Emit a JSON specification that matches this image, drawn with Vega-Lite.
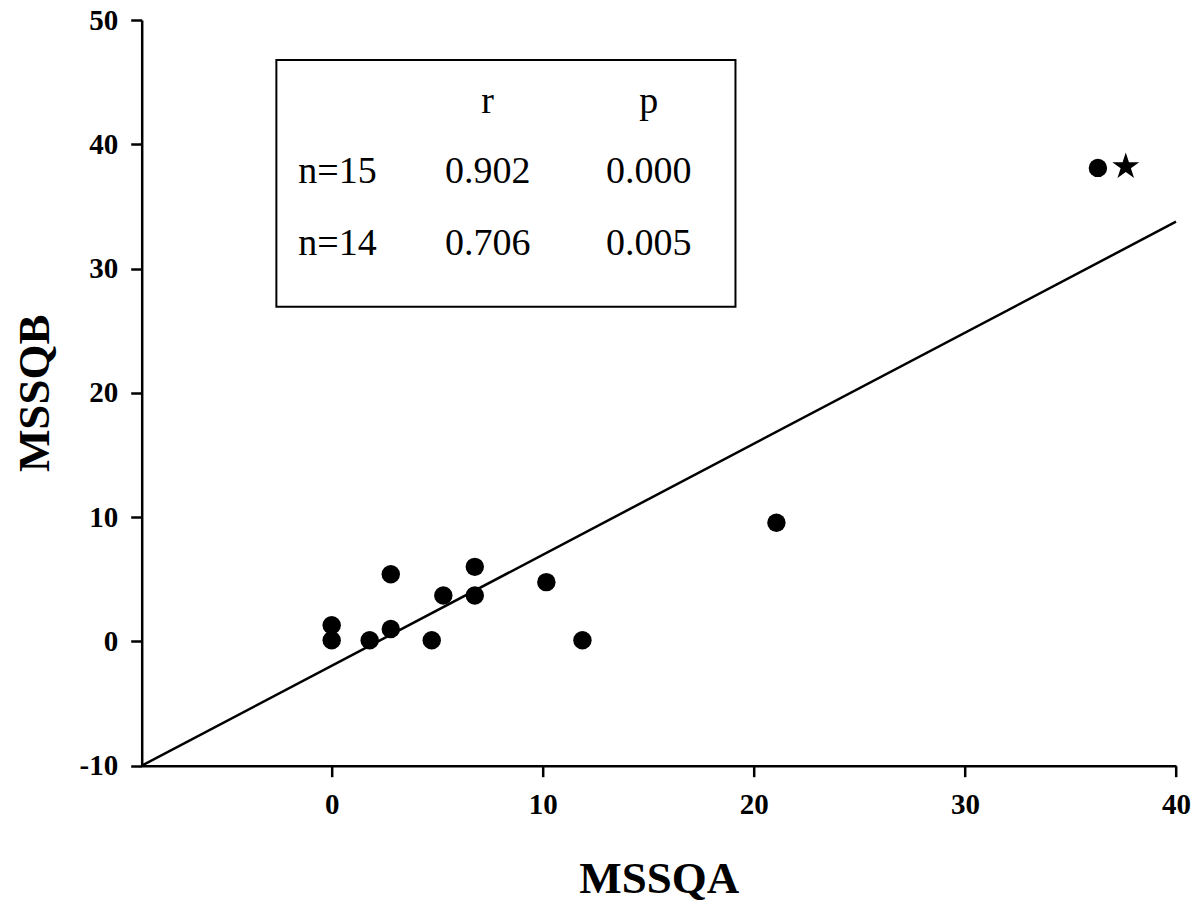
{
  "$schema": "https://vega.github.io/schema/vega-lite/v6.json",
  "width": 1034.3,
  "height": 745.7,
  "autosize": {"type": "none"},
  "padding": {"left": 141.7, "top": 20, "right": 24, "bottom": 141.3},
  "background": "white",
  "config": {
    "view": {"stroke": null},
    "axis": {
      "grid": false,
      "domainColor": "black",
      "domainWidth": 2.5,
      "tickColor": "black",
      "tickWidth": 2.5,
      "tickSize": 11,
      "labelFont": "Liberation Serif",
      "labelFontWeight": "bold",
      "labelFontSize": 29,
      "labelColor": "black",
      "labelFlush": false,
      "labelOverlap": false,
      "titleFont": "Liberation Serif",
      "titleFontWeight": "bold",
      "titleFontSize": 45,
      "titleColor": "black"
    }
  },
  "encoding": {
    "x": {
      "field": "x",
      "type": "quantitative",
      "scale": {"domain": [-9, 40], "nice": false, "zero": false},
      "axis": {"orient": "bottom", "title": "MSSQA", "values": [0, 10, 20, 30, 40], "labelPadding": 14, "titlePadding": 37}
    },
    "y": {
      "field": "y",
      "type": "quantitative",
      "scale": {"domain": [-10, 50], "nice": false, "zero": false},
      "axis": {"orient": "left", "title": "MSSQB", "values": [-10, 0, 10, 20, 30, 40, 50], "labelExpr": "datum.value < 0 ? '-' + abs(datum.value) : datum.label", "labelPadding": 13, "titlePadding": 22}
    }
  },
  "layer": [
    {
      "data": {"values": [{"x": -2.62, "x2": 19.13, "y": 46.78, "y2": 26.93}]},
      "mark": {"type": "rect", "fill": "white", "fillOpacity": 0, "stroke": "black", "strokeWidth": 2},
      "encoding": {
        "x2": {"field": "x2"},
        "y2": {"field": "y2"}
      }
    },
    {
      "data": {"values": [{"x": -9, "y": -10}, {"x": 40, "y": 33.77}]},
      "mark": {"type": "line", "color": "black", "strokeWidth": 2.5},
      "encoding": {}
    },
    {
      "data": {"values": [
        {"x": 0, "y": 1.3},
        {"x": 0, "y": 0.1},
        {"x": 1.8, "y": 0.1},
        {"x": 2.8, "y": 1.0},
        {"x": 2.8, "y": 5.4},
        {"x": 4.74, "y": 0.1},
        {"x": 5.29, "y": 3.7},
        {"x": 6.78, "y": 6.0},
        {"x": 6.78, "y": 3.7},
        {"x": 10.17, "y": 4.77},
        {"x": 11.88, "y": 0.1},
        {"x": 21.07, "y": 9.55},
        {"x": 36.3, "y": 38.1}
      ]},
      "mark": {"type": "point", "shape": "circle", "filled": true, "color": "black", "opacity": 1, "size": 340},
      "encoding": {}
    },
    {
      "data": {"values": [{"x": 37.62, "y": 38.2}]},
      "mark": {"type": "point", "shape": "M0,-1L0.2245,-0.309L0.9511,-0.309L0.3633,0.118L0.5878,0.809L0,0.382L-0.5878,0.809L-0.3633,0.118L-0.9511,-0.309L-0.2245,-0.309Z", "filled": true, "color": "black", "opacity": 1, "size": 800},
      "encoding": {}
    },
    {
      "data": {"values": [
        {"x": 7.39, "y": 42.51, "label": "r"},
        {"x": 15.02, "y": 42.51, "label": "p"},
        {"x": 0.28, "y": 36.88, "label": "n=15"},
        {"x": 7.39, "y": 36.88, "label": "0.902"},
        {"x": 15.02, "y": 36.88, "label": "0.000"},
        {"x": 0.28, "y": 31.08, "label": "n=14"},
        {"x": 7.39, "y": 31.08, "label": "0.706"},
        {"x": 15.02, "y": 31.08, "label": "0.005"}
      ]},
      "mark": {"type": "text", "font": "Liberation Serif", "fontSize": 38, "color": "black", "align": "center", "baseline": "alphabetic"},
      "encoding": {"text": {"field": "label"}}
    }
  ]
}
